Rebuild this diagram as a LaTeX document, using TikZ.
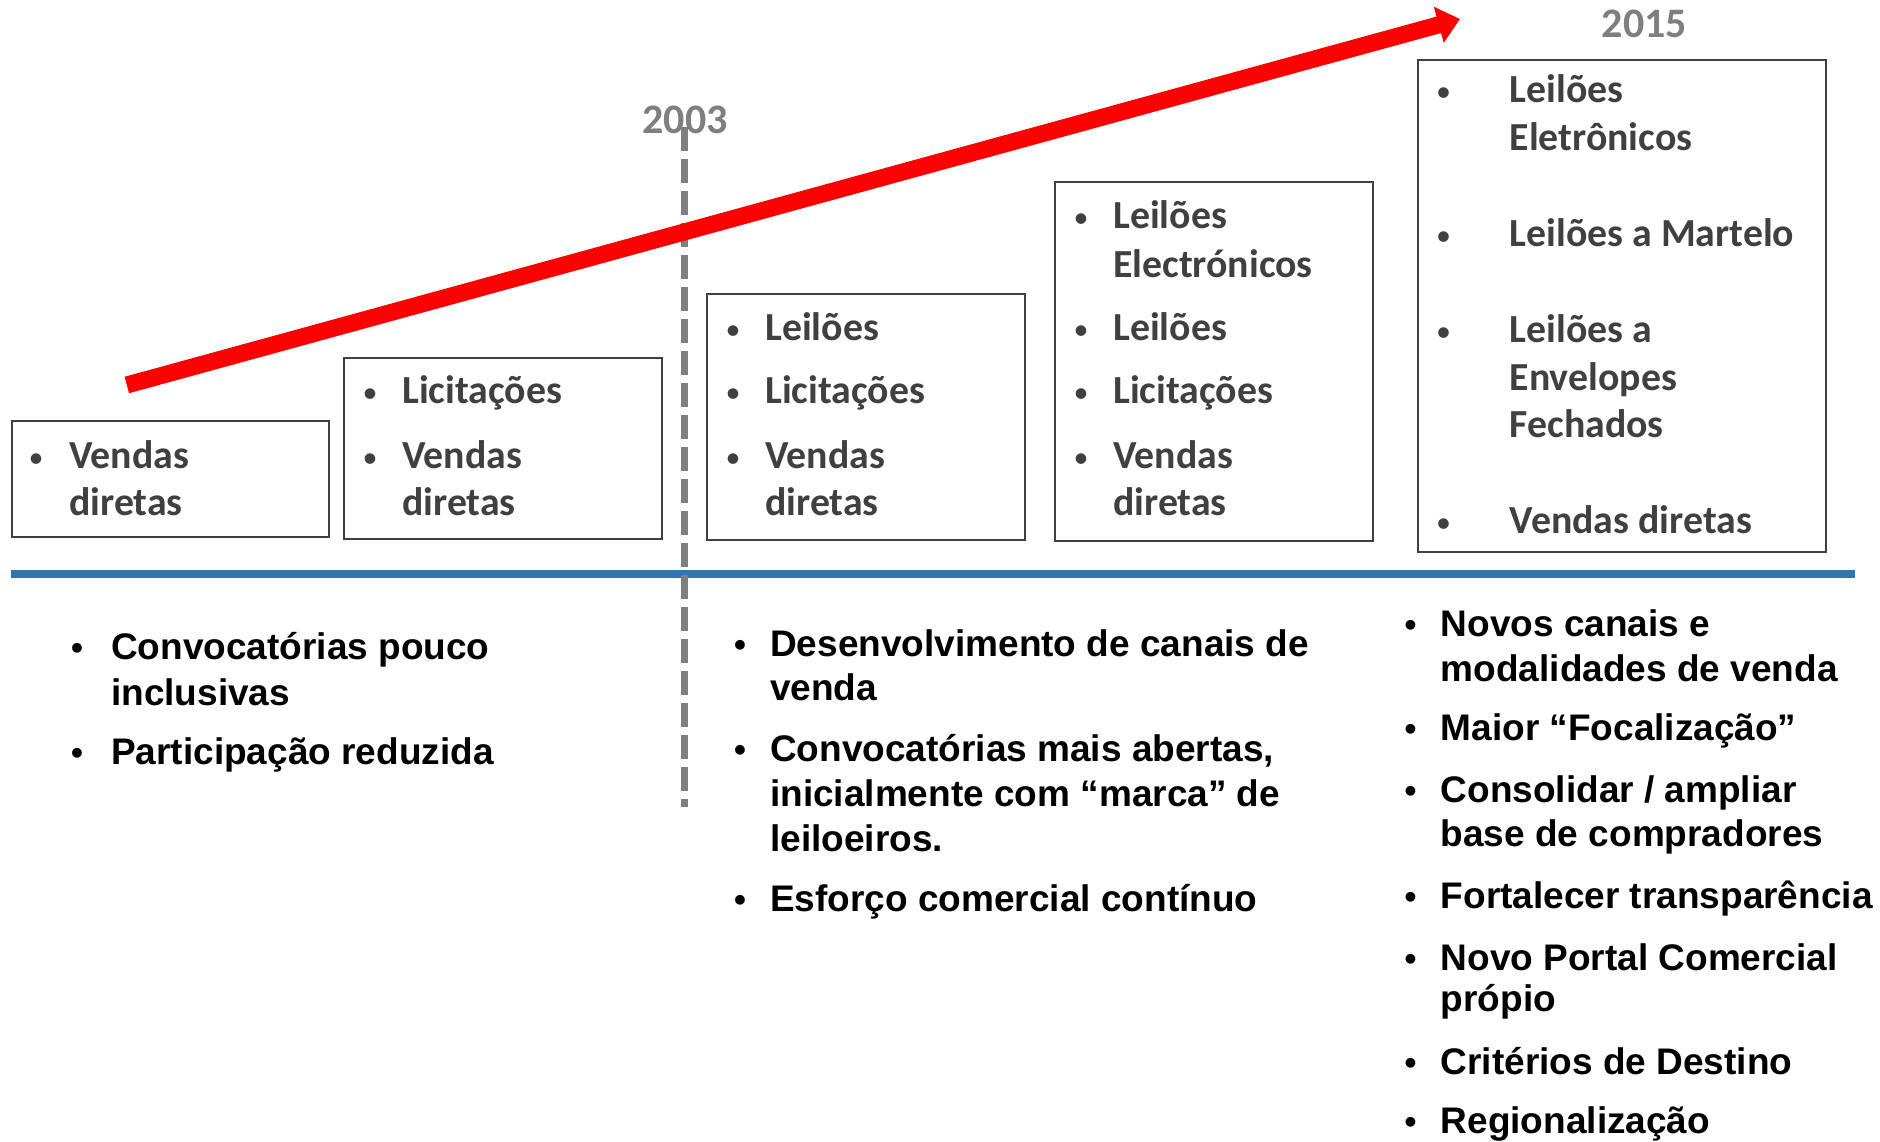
\documentclass[tikz,border=0pt]{standalone}
\usepackage{fontspec}
\setmainfont{Liberation Sans}
\newfontfamily\calfont{Carlito}
\newfontfamily\arfont{Liberation Sans}
\usetikzlibrary{arrows.meta}
\definecolor{boxgray}{HTML}{404040}
\definecolor{yeargray}{HTML}{7F7F7F}
\definecolor{lineblue}{HTML}{2E75B6}
\definecolor{arrowred}{HTML}{FF0000}
\newcommand{\mybt}[4]{\node[boxtxt] (#1) at (#2,#3) {#4};}
\newcommand{\mybb}[3]{\node[boxbul] (#1) at (#2,#3) {•};}
\newcommand{\mylt}[4]{\node[lowtxt] (#1) at (#2,#3) {#4};}
\newcommand{\mylb}[3]{\node[lowbul] (#1) at (#2,#3) {•};}
\begin{document}
\begin{tikzpicture}[x=1pt,y=-1pt,
  stagebox/.style={draw=boxgray,line width=2.2pt,inner sep=0pt,anchor=north west},
  boxtxt/.style={anchor=base west,inner sep=0pt,text=boxgray,font=\calfont\bfseries\fontsize{39.8}{46}\selectfont},
  boxbul/.style={anchor=base,inner sep=0pt,yshift=1pt,text=boxgray,font=\calfont\fontsize{30}{36}\selectfont},
  lowtxt/.style={anchor=base west,inner sep=0pt,text=black,font=\arfont\bfseries\fontsize{37}{44}\selectfont},
  lowbul/.style={anchor=base,inner sep=0pt,text=black,font=\arfont\bfseries\fontsize{34}{40}\selectfont},
  year/.style={anchor=base,inner sep=0pt,text=yeargray,font=\calfont\bfseries\fontsize{42}{48}\selectfont}
]
\useasboundingbox (0,0) rectangle (1880,1142);

% timeline (blue)
\coordinate (tl0) at (11,574);
\coordinate (tl1) at (1855,574);
\draw[lineblue,line width=8pt] (tl0) -- (tl1);

% boxes
\node[stagebox,minimum width=317pt,minimum height=116pt] (b1) at (11,420) {};
\node[stagebox,minimum width=318pt,minimum height=181pt] (b2) at (343,357) {};
\node[stagebox,minimum width=318pt,minimum height=246pt] (b3) at (706,293) {};
\node[stagebox,minimum width=318pt,minimum height=359pt] (b4) at (1054,181) {};
\node[stagebox,minimum width=408pt,minimum height=492pt] (b5) at (1417,59) {};

% years
\node[year] (y2003) at (685,134) {2003};
\node[year] (y2015) at (1644.5,37.5) {2015};

% dashed 2003 line
\coordinate (d0) at (684.5,127);
\coordinate (d1) at (684.5,807);
\draw[yeargray,line width=7pt,dash pattern=on 24pt off 8pt] (d0) -- (d1);

% red growth arrow
\coordinate (r0) at (126.8,385);
\coordinate (r1) at (1460,19);
\draw[arrowred,line width=17pt,-{Triangle[length=22pt,width=36pt]}] (r0) -- (r1);

% box 1
\mybb{b1p1}{36}{468}
\mybt{b1t1}{69}{468}{Vendas}
\mybt{b1t2}{69}{515}{diretas}

% box 2
\mybb{b2p1}{370}{403}
\mybt{b2t1}{402}{403}{Licitações}
\mybb{b2p2}{370}{468}
\mybt{b2t2}{402}{468}{Vendas}
\mybt{b2t3}{402}{515}{diretas}

% box 3
\mybb{b3p1}{733}{340.5}
\mybt{b3t1}{765}{340.5}{Leilões}
\mybb{b3p2}{733}{403.5}
\mybt{b3t2}{765}{403.5}{Licitações}
\mybb{b3p3}{733}{468}
\mybt{b3t3}{765}{468}{Vendas}
\mybt{b3t4}{765}{515}{diretas}

% box 4
\mybb{b4p1}{1081}{229}
\mybt{b4t1}{1113}{229}{Leilões}
\mybt{b4t2}{1113}{277}{Electrónicos}
\mybb{b4p2}{1081}{340.5}
\mybt{b4t3}{1113}{340.5}{Leilões}
\mybb{b4p3}{1081}{403.5}
\mybt{b4t4}{1113}{403.5}{Licitações}
\mybb{b4p4}{1081}{468}
\mybt{b4t5}{1113}{468}{Vendas}
\mybt{b4t6}{1113}{515}{diretas}

% box 5
\mybb{b5p1}{1443.6}{102.7}
\mybt{b5t1}{1509.5}{102.7}{Leilões}
\mybt{b5t2}{1509.5}{150.4}{Eletrônicos}
\mybb{b5p2}{1443.6}{247}
\mybt{b5t3}{1509.5}{247}{Leilões a Martelo}
\mybb{b5p3}{1443.6}{342}
\mybt{b5t4}{1509.5}{342}{Leilões a}
\mybt{b5t5}{1509.5}{390}{Envelopes}
\mybt{b5t6}{1509.5}{437}{Fechados}
\mybb{b5p4}{1443.6}{533.5}
\mybt{b5t7}{1509.5}{533.5}{Vendas diretas}

% lower left
\mylb{l1p1}{77}{659}
\mylt{l1t1}{111}{659}{Convocatórias pouco}
\mylt{l1t2}{111}{705}{inclusivas}
\mylb{l1p2}{77}{764}
\mylt{l1t3}{111}{764}{Participação reduzida}

% lower middle
\mylb{l2p1}{740}{656}
\mylt{l2t1}{770}{656}{Desenvolvimento de canais de}
\mylt{l2t2}{770}{700}{venda}
\mylb{l2p2}{740}{761}
\mylt{l2t3}{770}{761}{Convocatórias mais abertas,}
\mylt{l2t4}{770}{806}{inicialmente com “marca” de}
\mylt{l2t5}{770}{851}{leiloeiros.}
\mylb{l2p3}{740}{911}
\mylt{l2t6}{770}{911}{Esforço comercial contínuo}

% lower right
\mylb{l3p1}{1410.6}{636.5}
\mylt{l3t1}{1440.6}{636.5}{Novos canais e}
\mylt{l3t2}{1440.6}{681}{modalidades de venda}
\mylb{l3p2}{1410.6}{740}
\mylt{l3t3}{1440.6}{740}{Maior “Focalização”}
\mylb{l3p3}{1410.6}{802}
\mylt{l3t4}{1440.6}{802}{Consolidar / ampliar}
\mylt{l3t5}{1440.6}{846.7}{base de compradores}
\mylb{l3p4}{1410.6}{908}
\mylt{l3t6}{1440.6}{908}{Fortalecer transparência}
\mylb{l3p5}{1410.6}{970}
\mylt{l3t7}{1440.6}{970}{Novo Portal Comercial}
\mylt{l3t8}{1440.6}{1011.6}{própio}
\mylb{l3p6}{1410.6}{1074}
\mylt{l3t9}{1440.6}{1074}{Critérios de Destino}
\mylb{l3p7}{1410.6}{1133.6}
\mylt{l3t10}{1440.6}{1133.6}{Regionalização}
\end{tikzpicture}
\end{document}
